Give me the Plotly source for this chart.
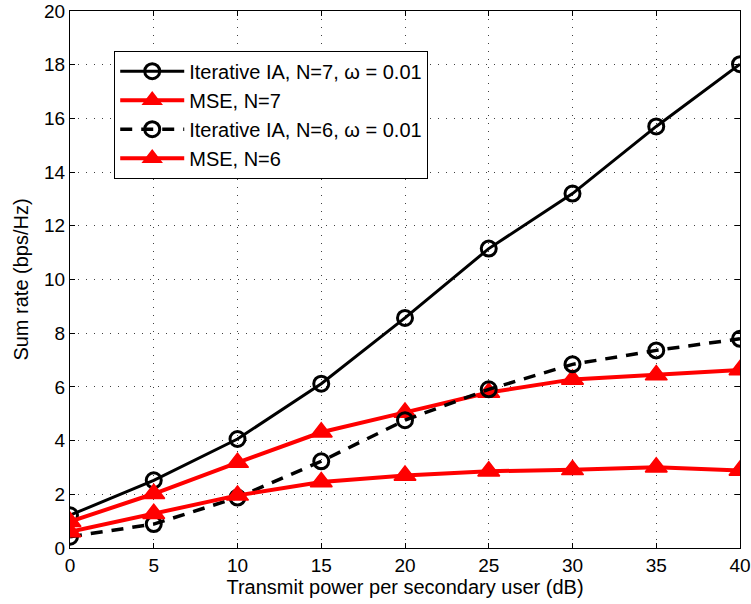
import plotly.graph_objects as go

x_db = [0, 5, 10, 15, 20, 25, 30, 35, 40]
ia_n7 = [1.22, 2.52, 4.06, 6.12, 8.57, 11.15, 13.2, 15.7, 18.02]
mse_n7 = [0.98, 2.02, 3.18, 4.31, 5.05, 5.79, 6.28, 6.44, 6.63]
ia_n6 = [0.42, 0.89, 1.88, 3.23, 4.76, 5.91, 6.84, 7.36, 7.79]
mse_n6 = [0.6, 1.28, 1.96, 2.46, 2.70, 2.86, 2.91, 3.01, 2.89]

names = ["Iterative IA, N=7, \u03c9 = 0.01", "MSE, N=7",
         "Iterative IA, N=6, \u03c9 = 0.01", "MSE, N=6"]

FONT = "Liberation Sans, Arial, sans-serif"

fig = go.Figure()
circ = dict(symbol="circle-open", size=15, color="black", line=dict(width=3, color="black"))
tri = dict(symbol="triangle-up", size=19, color="red", line=dict(width=1.5, color="red"))

fig.add_trace(go.Scatter(x=x_db, y=ia_n7, name=names[0], mode="lines+markers",
                         line=dict(color="black", width=3), marker=circ))
fig.add_trace(go.Scatter(x=x_db, y=mse_n7, name=names[1], mode="lines+markers",
                         line=dict(color="red", width=4), marker=tri))
fig.add_trace(go.Scatter(x=x_db, y=ia_n6, name=names[2], mode="lines+markers",
                         line=dict(color="black", width=3.5, dash="12px,9px"), marker=circ))
fig.add_trace(go.Scatter(x=x_db, y=mse_n6, name=names[3], mode="lines+markers",
                         line=dict(color="red", width=4), marker=tri))

axis_common = dict(showline=True, linecolor="black", linewidth=1, mirror="ticks",
                   ticks="inside", ticklen=5, tickcolor="black",
                   showgrid=True, gridcolor="rgba(0,0,0,0.75)", griddash="1px,7px", gridwidth=1,
                   zeroline=False, ticklabeloverflow="allow", automargin=False,
                   tickfont=dict(size=19, color="black", family=FONT))

fig.update_xaxes(range=[0, 40], dtick=5, **axis_common,
                 title=dict(text="Transmit power per secondary user (dB)",
                            font=dict(size=20, color="black", family=FONT), standoff=3))
fig.update_yaxes(range=[0, 20], dtick=2, **axis_common,
                 title=dict(text="Sum rate (bps/Hz)",
                            font=dict(size=20, color="black", family=FONT), standoff=10))

fig.update_layout(
    width=751, height=604,
    margin=dict(l=70, r=11, t=11, b=56, autoexpand=False),
    paper_bgcolor="white", plot_bgcolor="white",
    font=dict(family=FONT, color="black"),
    showlegend=True,
    legend=dict(x=0.066, y=0.926, xanchor="left", yanchor="top",
                bgcolor="white", bordercolor="black", borderwidth=1,
                font=dict(size=20, color="black", family=FONT),
                itemwidth=64, tracegroupgap=0),
)

fig.write_html("out.html", config={"displayModeBar": False},
               post_script="document.body.style.margin='0';document.body.style.overflow='hidden';")
